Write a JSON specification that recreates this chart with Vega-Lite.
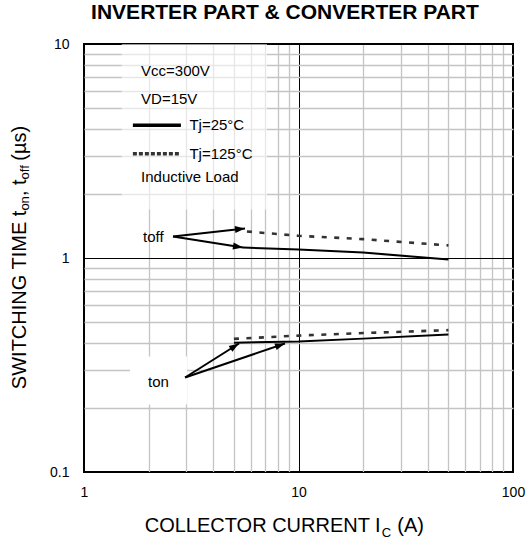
{
  "$schema": "https://vega.github.io/schema/vega-lite/v6.json",
  "width": 429,
  "height": 428,
  "autosize": {"type": "none"},
  "padding": {"left": 84, "top": 44, "right": 15, "bottom": 72},
  "background": "white",
  "config": {
    "font": "Liberation Sans",
    "view": {"stroke": "#000000", "strokeWidth": 2}
  },
  "datasets": {
    "curves": [
      {"series": "toff", "tj": "25", "ic": 5.5, "t": 1.12},
      {"series": "toff", "tj": "25", "ic": 10, "t": 1.095},
      {"series": "toff", "tj": "25", "ic": 20, "t": 1.06},
      {"series": "toff", "tj": "25", "ic": 50, "t": 0.985},
      {"series": "toff", "tj": "125", "ic": 5.75, "t": 1.33},
      {"series": "toff", "tj": "125", "ic": 10, "t": 1.27},
      {"series": "toff", "tj": "125", "ic": 20, "t": 1.225},
      {"series": "toff", "tj": "125", "ic": 50, "t": 1.145},
      {"series": "ton", "tj": "25", "ic": 5, "t": 0.402},
      {"series": "ton", "tj": "25", "ic": 10, "t": 0.407},
      {"series": "ton", "tj": "25", "ic": 20, "t": 0.42},
      {"series": "ton", "tj": "25", "ic": 50, "t": 0.439},
      {"series": "ton", "tj": "125", "ic": 5, "t": 0.419},
      {"series": "ton", "tj": "125", "ic": 10, "t": 0.434},
      {"series": "ton", "tj": "125", "ic": 20, "t": 0.446},
      {"series": "ton", "tj": "125", "ic": 50, "t": 0.46}
    ],
    "arrows": [
      {"arrow": "A", "ic": 2.6, "t": 1.26},
      {"arrow": "A", "ic": 5.63, "t": 1.374},
      {"arrow": "B", "ic": 2.6, "t": 1.26},
      {"arrow": "B", "ic": 5.51, "t": 1.12},
      {"arrow": "C", "ic": 2.96, "t": 0.2764},
      {"arrow": "C", "ic": 5.28, "t": 0.3985},
      {"arrow": "D", "ic": 2.96, "t": 0.2764},
      {"arrow": "D", "ic": 8.65, "t": 0.3985}
    ],
    "heads": [
      {"arrow": "A", "ic": 5.63, "t": 1.374},
      {"arrow": "B", "ic": 5.51, "t": 1.12},
      {"arrow": "C", "ic": 5.28, "t": 0.3985},
      {"arrow": "D", "ic": 8.65, "t": 0.3985}
    ],
    "boxes": [
      {"box": "legend", "ic": 1.5, "ic2": 7.13, "t": 10, "t2": 1.685},
      {"box": "ton", "ic": 1.639, "ic2": 3.02, "t": 0.3466, "t2": 0.2067}
    ],
    "legendlines": [
      {"tj": "25", "ic": 1.69, "t": 4.17},
      {"tj": "25", "ic": 2.83, "t": 4.17},
      {"tj": "125", "ic": 1.69, "t": 3.07},
      {"tj": "125", "ic": 2.83, "t": 3.07}
    ],
    "labels": [
      {"text": "Vcc=300V", "ic": 1.845, "t": 7.44},
      {"text": "VD=15V", "ic": 1.845, "t": 5.56},
      {"text": "Tj=25°C", "ic": 3.1, "t": 4.17},
      {"text": "Tj=125°C", "ic": 3.1, "t": 3.07},
      {"text": "Inductive Load", "ic": 1.845, "t": 2.38},
      {"text": "toff", "ic": 1.884, "t": 1.26},
      {"text": "ton", "ic": 1.99, "t": 0.262}
    ],
    "title": [
      {"text": "INVERTER PART & CONVERTER PART", "ic": 8.65, "t": 13.02}
    ],
    "xtitle": [
      {"role": "main", "text": "COLLECTOR CURRENT I", "ic": 24.16, "t": 0.0522},
      {"role": "sub", "text": "C", "ic": 24.43, "t": 0.04995},
      {"role": "rest", "text": "(A)", "ic": 28.9, "t": 0.0522}
    ],
    "ytitle": [
      {"role": "main", "text": "SWITCHING TIME t", "ic": 0.5366, "t": 1.665},
      {"role": "sub", "text": "on", "ic": 0.554, "t": 1.665},
      {"role": "rest", "text": ", t", "ic": 0.5366, "t": 1.947},
      {"role": "sub", "text": "off", "ic": 0.554, "t": 2.329},
      {"role": "rest", "text": "(µs)", "ic": 0.5366, "t": 2.85}
    ]
  },
  "encoding": {
    "x": {
      "field": "ic",
      "type": "quantitative",
      "scale": {"type": "log", "domain": [1, 100], "nice": false},
      "axis": {
        "title": null,
        "values": [1, 2, 3, 4, 5, 6, 7, 8, 9, 10, 20, 30, 40, 50, 60, 70, 80, 90, 100],
        "labelExpr": "datum.value==1?'1':datum.value==10?'10':datum.value==100?'100':''",
        "ticks": false,
        "domain": false,
        "grid": true,
        "gridColor": {"condition": {"test": "datum.value==1||datum.value==10||datum.value==100", "value": "#000000"}, "value": "#c4c4c4"},
        "gridWidth": {"condition": {"test": "datum.value==1||datum.value==10||datum.value==100", "value": 1}, "value": 1.3},
        "gridOpacity": 1,
        "labelFont": "Liberation Sans",
        "labelFontSize": 14,
        "labelColor": "#000000",
        "labelPadding": 13,
        "labelFlush": false,
        "labelOverlap": false
      }
    },
    "y": {
      "field": "t",
      "type": "quantitative",
      "scale": {"type": "log", "domain": [0.1, 10], "nice": false},
      "axis": {
        "title": null,
        "values": [0.1, 0.2, 0.3, 0.4, 0.5, 0.6, 0.7, 0.8, 0.9, 1, 2, 3, 4, 5, 6, 7, 8, 9, 10],
        "labelExpr": "datum.value==0.1?'0.1':datum.value==1?'1':datum.value==10?'10':''",
        "ticks": false,
        "domain": false,
        "grid": true,
        "gridColor": {"condition": {"test": "datum.value==0.1||datum.value==1||datum.value==10", "value": "#000000"}, "value": "#c4c4c4"},
        "gridWidth": {"condition": {"test": "datum.value==0.1||datum.value==1||datum.value==10", "value": 1}, "value": 1.3},
        "gridOpacity": 1,
        "labelFont": "Liberation Sans",
        "labelFontSize": 14,
        "labelColor": "#000000",
        "labelPadding": 15,
        "labelFlush": false,
        "labelOverlap": false
      }
    }
  },
  "layer": [
    {
      "data": {"name": "boxes"},
      "transform": [{"filter": "datum.box=='legend'"}],
      "mark": {"type": "rect", "fill": "white", "opacity": 0.6},
      "encoding": {"x2": {"field": "ic2"}, "y2": {"field": "t2"}}
    },
    {
      "data": {"name": "boxes"},
      "transform": [{"filter": "datum.box=='ton'"}],
      "mark": {"type": "rect", "fill": "white", "opacity": 1},
      "encoding": {"x2": {"field": "ic2"}, "y2": {"field": "t2"}}
    },
    {
      "data": {"name": "curves"},
      "transform": [{"filter": "datum.tj=='25'"}],
      "mark": {"type": "line", "color": "#000000", "strokeWidth": 2},
      "encoding": {"detail": {"field": "series"}}
    },
    {
      "data": {"name": "curves"},
      "transform": [{"filter": "datum.tj=='125'"}],
      "mark": {"type": "line", "color": "#333333", "strokeWidth": 2.6, "strokeDash": [5, 7.5]},
      "encoding": {"detail": {"field": "series"}}
    },
    {
      "data": {"name": "arrows"},
      "mark": {"type": "line", "color": "#000000", "strokeWidth": 2},
      "encoding": {"detail": {"field": "arrow"}}
    },
    {
      "data": {"name": "heads"},
      "transform": [{"filter": "datum.arrow=='A'"}],
      "mark": {"type": "point", "shape": "M0,0L-2,-0.7L-2,0.7Z", "filled": true, "color": "#000000", "opacity": 1, "size": 100, "angle": -6.3},
      "encoding": {}
    },
    {
      "data": {"name": "heads"},
      "transform": [{"filter": "datum.arrow=='B'"}],
      "mark": {"type": "point", "shape": "M0,0L-2,-0.7L-2,0.7Z", "filled": true, "color": "#000000", "opacity": 1, "size": 100, "angle": 8.9},
      "encoding": {}
    },
    {
      "data": {"name": "heads"},
      "transform": [{"filter": "datum.arrow=='C'"}],
      "mark": {"type": "point", "shape": "M0,0L-2,-0.7L-2,0.7Z", "filled": true, "color": "#000000", "opacity": 1, "size": 100, "angle": -32.2},
      "encoding": {}
    },
    {
      "data": {"name": "heads"},
      "transform": [{"filter": "datum.arrow=='D'"}],
      "mark": {"type": "point", "shape": "M0,0L-2,-0.7L-2,0.7Z", "filled": true, "color": "#000000", "opacity": 1, "size": 100, "angle": -18.8},
      "encoding": {}
    },
    {
      "data": {"name": "legendlines"},
      "transform": [{"filter": "datum.tj=='25'"}],
      "mark": {"type": "line", "color": "#000000", "strokeWidth": 3.5},
      "encoding": {}
    },
    {
      "data": {"name": "legendlines"},
      "transform": [{"filter": "datum.tj=='125'"}],
      "mark": {"type": "line", "color": "#333333", "strokeWidth": 3.5, "strokeDash": [4, 2]},
      "encoding": {}
    },
    {
      "data": {"name": "labels"},
      "mark": {"type": "text", "align": "left", "baseline": "middle", "fontSize": 15, "font": "Liberation Sans", "color": "#000000"},
      "encoding": {"text": {"field": "text"}}
    },
    {
      "data": {"name": "title"},
      "mark": {"type": "text", "align": "center", "baseline": "alphabetic", "fontSize": 21, "fontWeight": "bold", "font": "Liberation Sans", "color": "#000000"},
      "encoding": {"text": {"field": "text"}}
    },
    {
      "data": {"name": "xtitle"},
      "transform": [{"filter": "datum.role=='main'"}],
      "mark": {"type": "text", "align": "right", "baseline": "alphabetic", "fontSize": 20, "font": "Liberation Sans", "color": "#000000"},
      "encoding": {"text": {"field": "text"}}
    },
    {
      "data": {"name": "xtitle"},
      "transform": [{"filter": "datum.role=='sub'"}],
      "mark": {"type": "text", "align": "left", "baseline": "alphabetic", "fontSize": 13, "font": "Liberation Sans", "color": "#000000"},
      "encoding": {"text": {"field": "text"}}
    },
    {
      "data": {"name": "xtitle"},
      "transform": [{"filter": "datum.role=='rest'"}],
      "mark": {"type": "text", "align": "left", "baseline": "alphabetic", "fontSize": 20, "font": "Liberation Sans", "color": "#000000"},
      "encoding": {"text": {"field": "text"}}
    },
    {
      "data": {"name": "ytitle"},
      "transform": [{"filter": "datum.role=='main'"}],
      "mark": {"type": "text", "align": "right", "baseline": "alphabetic", "angle": 270, "fontSize": 20, "font": "Liberation Sans", "color": "#000000"},
      "encoding": {"text": {"field": "text"}}
    },
    {
      "data": {"name": "ytitle"},
      "transform": [{"filter": "datum.role=='sub'"}],
      "mark": {"type": "text", "align": "left", "baseline": "alphabetic", "angle": 270, "fontSize": 13, "font": "Liberation Sans", "color": "#000000"},
      "encoding": {"text": {"field": "text"}}
    },
    {
      "data": {"name": "ytitle"},
      "transform": [{"filter": "datum.role=='rest'"}],
      "mark": {"type": "text", "align": "left", "baseline": "alphabetic", "angle": 270, "fontSize": 20, "font": "Liberation Sans", "color": "#000000"},
      "encoding": {"text": {"field": "text"}}
    }
  ]
}
